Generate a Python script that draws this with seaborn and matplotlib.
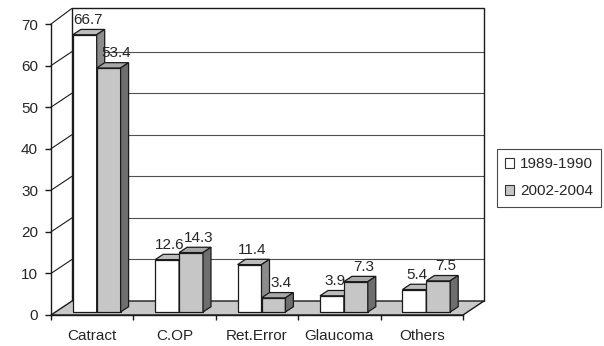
import matplotlib
matplotlib.use("Agg")
import matplotlib.pyplot as plt
from matplotlib.patches import Polygon, Patch
import seaborn as sns
import pandas as pd

categories = ["Catract", "C.OP", "Ret.Error", "Glaucoma", "Others"]
periods = ["1989-1990", "2002-2004"]
# bar heights as drawn in the picture
heights_1989 = [66.7, 12.6, 11.4, 3.9, 5.4]
heights_2002 = [58.7, 14.3, 3.4, 7.3, 7.5]
# value labels as printed
labels_1989 = ["66.7", "12.6", "11.4", "3.9", "5.4"]
labels_2002 = ["53.4", "14.3", "3.4", "7.3", "7.5"]
yticks = [0, 10, 20, 30, 40, 50, 60, 70]

df = pd.DataFrame({
    "category": categories * 2,
    "period": [periods[0]] * 5 + [periods[1]] * 5,
    "value": heights_1989 + heights_2002,
})
bar_labels = [labels_1989, labels_2002]

front_colors = ["#ffffff", "#c6c6c6"]
top_colors = ["#bdbdbd", "#a8a8a8"]
side_colors = ["#8c8c8c", "#6e6e6e"]
label_shift = [0.35, 0.95]  # label x nudge, in bar depths
edge = "#1a1a1a"

sns.set_style("ticks")
plt.rcParams["font.family"] = ["Liberation Sans", "DejaVu Sans"]
plt.rcParams["font.size"] = 11

W, H = 604, 346
fig = plt.figure(figsize=(W / 100, H / 100), dpi=100)

# pixel geometry of the pseudo 3d box
x_front_l, x_front_r = 51, 463
y_zero, px_per_unit = 315, 4.157
depth_px = (21, 14)
px_x = (x_front_r - x_front_l) / len(categories)
DX, DY = depth_px[0] / px_x, depth_px[1] / px_per_unit
ymax = yticks[-1] + DY + 0.4
top_px = y_zero - ymax * px_per_unit
ax = fig.add_axes([x_front_l / W, (H - y_zero) / H,
                   (x_front_r + depth_px[0] - x_front_l) / W, (y_zero - top_px) / H])

sns.barplot(data=df, x="category", y="value", hue="period", order=categories,
            hue_order=periods, palette=front_colors, saturation=1, width=0.58,
            edgecolor=edge, linewidth=0.9, legend=False, ax=ax)

ax.set_xlim(-0.5, len(categories) - 0.5 + DX)
ax.set_ylim(0, ymax)

x0, x1 = -0.5, len(categories) - 0.5
top_y = ymax
# floor
ax.add_patch(Polygon([(x0, 0), (x1, 0), (x1 + DX, DY), (x0 + DX, DY)],
                     closed=True, fc="#c8c8c8", ec=edge, lw=1.0, zorder=1, clip_on=False))
# back wall grid and frame
ax.hlines([t + DY for t in yticks[1:-1]], x0 + DX, x1 + DX, color="#505050", lw=0.8, zorder=0.5)
ax.plot([x0 + DX, x0 + DX, x1 + DX, x1 + DX], [DY, top_y, top_y, DY],
        color=edge, lw=1.0, zorder=0.6, clip_on=False)
# side wall lines
for t in yticks[1:-1]:
    ax.plot([x0, x0 + DX], [t, t + DY], color=edge, lw=0.8, zorder=0.6, clip_on=False)
ax.plot([x0, x0 + DX], [yticks[-1], top_y], color=edge, lw=0.8, zorder=0.6, clip_on=False)

# bars: shift into the box and add top and side faces
off_x, off_y = 4.5 / px_x, 3 / px_per_unit
bdx, bdy = 8 / px_x, 5.3 / px_per_unit
for h, cont in enumerate(ax.containers):
    for i, bar in enumerate(cont):
        bar.set_x(bar.get_x() + off_x)
        bar.set_y(off_y)
        z = 3 + i * 2 + h
        bar.set_zorder(z)
        bx0 = bar.get_x()
        bx1 = bx0 + bar.get_width()
        by0 = off_y
        by1 = off_y + bar.get_height()
        ax.add_patch(Polygon([(bx0, by1), (bx1, by1), (bx1 + bdx, by1 + bdy), (bx0 + bdx, by1 + bdy)],
                             closed=True, fc=top_colors[h], ec=edge, lw=0.9, zorder=z))
        ax.add_patch(Polygon([(bx1, by0), (bx1 + bdx, by0 + bdy), (bx1 + bdx, by1 + bdy), (bx1, by1)],
                             closed=True, fc=side_colors[h], ec=edge, lw=0.9, zorder=z))
        ax.text((bx0 + bx1) / 2 + bdx * label_shift[h], by1 + bdy + 5.5 / px_per_unit,
                bar_labels[h][i], ha="center", va="baseline", fontsize=11, zorder=30)

# axes
sns.despine(ax=ax, top=True, right=True)
ax.spines["left"].set_bounds(0, yticks[-1])
ax.spines["bottom"].set_bounds(x0, x1)
for sp in ["left", "bottom"]:
    ax.spines[sp].set_color(edge)
    ax.spines[sp].set_linewidth(1.0)
ax.set_yticks(yticks)
ax.tick_params(axis="y", length=4.3, width=1.0, pad=5, labelsize=11, color=edge)
ax.set_xticks([x0 + k for k in range(len(categories) + 1)], [""] * (len(categories) + 1))
ax.set_xticks(range(len(categories)), categories, minor=True)
ax.tick_params(axis="x", which="major", length=3.6, width=1.0, color=edge)
ax.tick_params(axis="x", which="minor", length=0, pad=10, labelsize=11)
ax.set_xlabel("")
ax.set_ylabel("")
ax.patch.set_alpha(0)

handles = [Patch(fc=front_colors[k], ec="#333333", lw=0.8, label=periods[k]) for k in range(2)]
leg = fig.legend(handles=handles, loc="upper left", bbox_to_anchor=(497 / W, 1 - 149 / H),
                 frameon=True, fancybox=False, edgecolor=edge, fontsize=11,
                 handlelength=0.55, handleheight=0.55, handletextpad=0.4, labelspacing=0.85,
                 borderpad=0.55, borderaxespad=0)
leg.get_frame().set_linewidth(0.8)

fig.savefig("out.png", dpi=100)
